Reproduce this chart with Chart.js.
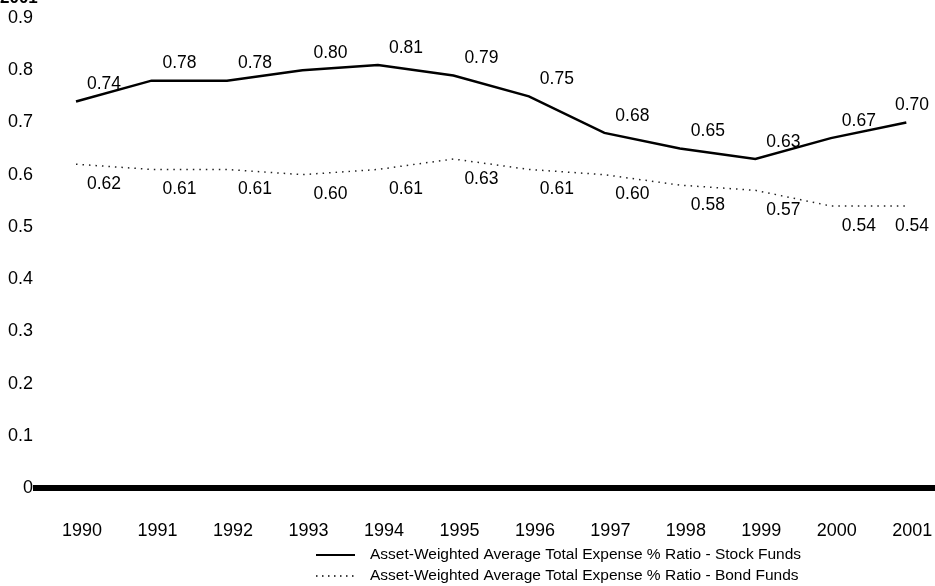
<!DOCTYPE html>
<html lang="en">
<head>
<meta charset="UTF-8">
<title>Expense ratios</title>
<script src="https://cdn.jsdelivr.net/npm/chart.js"></script>
<style>
  body { margin: 0; background: #fff; }
  #wrap { position: relative; width: 935px; height: 586px; }
</style>
</head>
<body>
<div id="wrap"><canvas id="c" width="935" height="586"></canvas></div>
<script>
const years = ['1990','1991','1992','1993','1994','1995','1996','1997','1998','1999','2000','2001'];
const stockFunds = [0.74, 0.78, 0.78, 0.80, 0.81, 0.79, 0.75, 0.68, 0.65, 0.63, 0.67, 0.70];
const bondFunds  = [0.62, 0.61, 0.61, 0.60, 0.61, 0.63, 0.61, 0.60, 0.58, 0.57, 0.54, 0.54];
const seriesNames = [
  'Asset-Weighted Average Total Expense % Ratio - Stock Funds',
  'Asset-Weighted Average Total Expense % Ratio - Bond Funds'
];
const titleText = '2001';

const FONT = '"Liberation Sans", Arial, Helvetica, sans-serif';

// value labels next to each point, plus legend and the clipped title
const extras = {
  id: 'extras',
  afterDatasetsDraw(chart) {
    const ctx = chart.ctx;
    ctx.save();
    ctx.fillStyle = '#000';
    ctx.font = '17.5px ' + FONT;
    ctx.textAlign = 'center';
    ctx.textBaseline = 'middle';
    const dy = [-17, 20];
    chart.data.datasets.forEach((ds, di) => {
      chart.getDatasetMeta(di).data.forEach((pt, i) => {
        const x = Math.min(pt.x + 28, 912);
        ctx.fillText(ds.data[i].y.toFixed(2), x, pt.y + dy[di]);
      });
    });

    // title, cut off by the top edge
    ctx.font = 'bold 17px ' + FONT;
    ctx.textAlign = 'left';
    ctx.textBaseline = 'alphabetic';
    ctx.fillText(titleText, 0, 3);

    // legend
    ctx.font = '15.5px ' + FONT;
    ctx.textBaseline = 'middle';
    const rows = [555, 576];
    ctx.strokeStyle = '#000';
    ctx.lineWidth = 2;
    ctx.beginPath(); ctx.moveTo(316, rows[0]); ctx.lineTo(355, rows[0]); ctx.stroke();
    ctx.lineWidth = 1.3;
    ctx.setLineDash([1.5, 4.5]);
    ctx.beginPath(); ctx.moveTo(316, rows[1]); ctx.lineTo(355, rows[1]); ctx.stroke();
    ctx.setLineDash([]);
    ctx.fillText(seriesNames[0], 370, rows[0]);
    ctx.fillText(seriesNames[1], 370, rows[1]);
    ctx.restore();
  }
};

new Chart(document.getElementById('c'), {
  type: 'line',
  data: {
    datasets: [
      {
        label: seriesNames[0],
        data: stockFunds.map((v, i) => ({ x: i, y: v })),
        borderColor: '#000', borderWidth: 2.5, pointRadius: 0, tension: 0, fill: false
      },
      {
        label: seriesNames[1],
        data: bondFunds.map((v, i) => ({ x: i, y: v })),
        borderColor: '#222', borderWidth: 1.5, borderDash: [1.5, 5], pointRadius: 0, tension: 0, fill: false
      }
    ]
  },
  options: {
    responsive: false,
    animation: false,
    layout: { padding: { top: 18, right: 0, left: 0, bottom: 0 } },
    plugins: { legend: { display: false }, tooltip: { enabled: false } },
    scales: {
      x: {
        type: 'linear',
        min: -0.53, max: 11.38,
        afterBuildTicks: s => { s.ticks = years.map((y, i) => ({ value: i })); },
        afterFit: s => { s.height = 98; s.paddingLeft = 0; s.paddingRight = 0; },
        grid: { display: false, drawTicks: false },
        border: { display: true, color: '#000', width: 6 },
        ticks: {
          callback: v => years[v],
          color: '#000', font: { size: 18, family: FONT },
          padding: 32, labelOffset: 6, maxRotation: 0, autoSkip: false
        }
      },
      y: {
        min: 0, max: 0.9,
        afterFit: s => { s.width = 36; },
        grid: { display: false, drawTicks: false },
        border: { display: false },
        ticks: { stepSize: 0.1, color: '#000', font: { size: 18, family: FONT }, padding: 3 }
      }
    }
  },
  plugins: [extras]
});
</script>
</body>
</html>
